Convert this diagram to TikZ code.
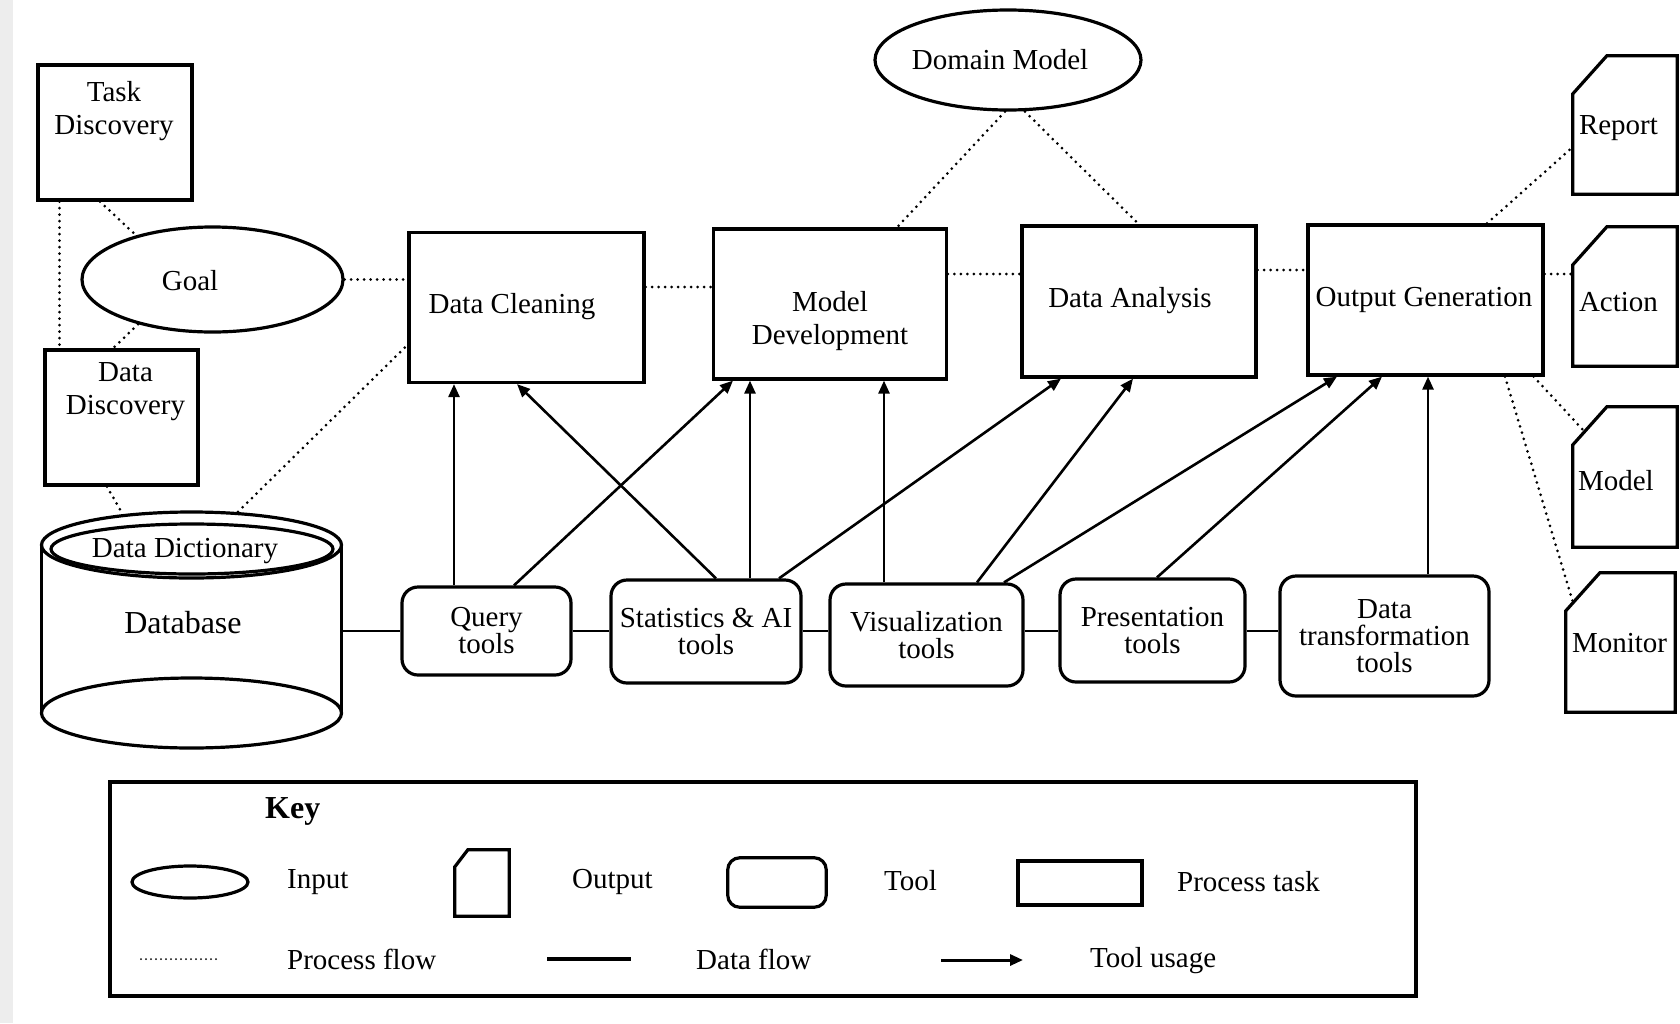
\documentclass[tikz,border=0pt]{standalone}
\usepackage{fontspec}
\setmainfont{Liberation Serif}
\usetikzlibrary{arrows.meta,shapes.geometric}
\newcommand{\docoutline}[3]{%
  \draw[boxline] ([yshift=-#3]#1.north west) -- ([xshift=#2]#1.north west) -- (#1.north east) -- (#1.south east) -- (#1.south west) -- cycle;}
\begin{document}
\begin{tikzpicture}[x=1pt,y=-1pt,
  boxline/.style={line width=3.2pt, line join=miter},
  procbox/.style={draw, boxline, rectangle, inner sep=0pt},
  toolbox/.style={draw, boxline, rectangle, rounded corners=16pt, inner sep=0pt, align=center, font=\fontsize{29}{27}\selectfont},
  inell/.style={draw, boxline, ellipse, inner sep=0pt},
  outbox/.style={rectangle, inner sep=0pt},
  txt/.style={inner sep=0pt, align=center, font=\fontsize{29}{33}\selectfont},
  pflow/.style={line width=3pt, line cap=round, dash pattern=on 0pt off 6.5pt},
  dflow/.style={line width=2.8pt},
  tuse/.style={line width=2.6pt, -{Triangle[length=13pt,width=11pt]}},
]
\fill[white] (0,0) rectangle (1680,1023);
\fill[gray!14] (0,0) rectangle (13,1023);
\useasboundingbox (0,0) rectangle (1680,1023);

% inputs and discovery tasks
\node[procbox, minimum width=154pt, minimum height=135pt] (td) at (115,132.5) {};
\node[txt] (tdt) at (114,111) {Task\\Discovery};
\node[inell, minimum width=261pt, minimum height=105pt] (goal) at (212.5,279.5) {};
\node[txt] (goalt) at (190,281) {Goal};
\node[procbox, minimum width=153pt, minimum height=135pt] (dd) at (121.5,417.5) {};
\node[txt] (ddt) at (125.5,391.5) {Data\\Discovery};

% database cylinder
\node[outbox, minimum width=300pt, minimum height=236pt] (db) at (191.5,630) {};
\draw[boxline] (41.5,545) -- (41.5,713);
\draw[boxline] (341.5,545) -- (341.5,713);
\draw[boxline] (191.5,713) ellipse [x radius=150pt, y radius=35pt];
\draw[boxline] (191.5,545) ellipse [x radius=150pt, y radius=33pt];
\draw[boxline] (192,549) ellipse [x radius=141pt, y radius=25pt];
\node[txt] (ddict) at (185,551) {Data Dictionary};
\node[txt, font=\fontsize{32}{34}\selectfont] (dbt) at (183,623) {Database};

% process tasks
\node[procbox, minimum width=235pt, minimum height=150pt] (dc) at (526.5,307.5) {};
\node[txt] (dct) at (512,307) {Data Cleaning};
\node[procbox, minimum width=232.5pt, minimum height=150pt] (md) at (830,304) {};
\node[txt] (mdt) at (830,321) {Model\\Development};
\node[procbox, minimum width=234pt, minimum height=151pt] (da) at (1139,301.5) {};
\node[txt] (dat) at (1130,301) {Data Analysis};
\node[procbox, minimum width=235pt, minimum height=150pt] (og) at (1425.5,300) {};
\node[txt] (ogt) at (1424,300) {Output Generation};
\node[inell, minimum width=266pt, minimum height=100pt] (dm) at (1008,60) {};
\node[txt] (dmt) at (1000,60) {Domain Model};

% outputs
\node[outbox, minimum width=104pt, minimum height=138pt] (rep) at (1625,125) {};
\docoutline{rep}{34pt}{38pt}
\node[txt, anchor=west] (rept) at ([xshift=6pt,yshift=-3.5pt]rep.west) {Report};
\node[outbox, minimum width=104pt, minimum height=139pt] (act) at (1625,296.5) {};
\docoutline{act}{34pt}{38pt}
\node[txt, anchor=west] (actt) at ([xshift=6pt,yshift=-5.5pt]act.west) {Action};
\node[outbox, minimum width=104pt, minimum height=140pt] (mod) at (1625,477) {};
\docoutline{mod}{34pt}{38pt}
\node[txt, anchor=west] (modt) at ([xshift=5pt,yshift=-4pt]mod.west) {Model};
\node[outbox, minimum width=109pt, minimum height=139pt] (mon) at (1620.5,642.5) {};
\docoutline{mon}{34pt}{38pt}
\node[txt, anchor=west] (mont) at ([xshift=6pt,yshift=-1pt]mon.west) {Monitor};

% tools
\node[toolbox, minimum width=169pt, minimum height=88pt] (qt) at (486.5,631) {Query\\tools};
\node[toolbox, minimum width=190pt, minimum height=103pt] (st) at (706,631.5) {Statistics \& AI\\tools};
\node[toolbox, minimum width=193pt, minimum height=102pt] (vt) at (926.5,635) {Visualization\\tools};
\node[toolbox, minimum width=185pt, minimum height=103pt] (pt) at (1152.5,630.5) {Presentation\\tools};
\node[toolbox, minimum width=209pt, minimum height=120pt] (dt) at (1384.5,636) {Data\\transformation\\tools};

% data flow
\draw[dflow] (db.east |- qt.west) -- (qt.west);
\draw[dflow] (qt.east) -- (qt.east -| st.west);
\draw[dflow] (st.east |- qt.east) -- (qt.east -| vt.west);
\draw[dflow] (vt.east |- qt.east) -- (qt.east -| pt.west);
\draw[dflow] (pt.east |- qt.east) -- (qt.east -| dt.west);

% tool usage
\draw[tuse] ([xshift=-32.5pt]qt.north) -- ([xshift=-32.5pt]qt.north |- dc.south);
\draw[tuse] ([xshift=27.5pt]qt.north) -- ([xshift=-97pt]md.south);
\draw[tuse] ([xshift=10pt]st.north) -- ([xshift=-9.5pt]dc.south);
\draw[tuse] ([xshift=44pt]st.north) -- ([xshift=44pt]st.north |- md.south);
\draw[tuse] ([xshift=73pt]st.north) -- ([xshift=-78pt]da.south);
\draw[tuse] ([xshift=-42.5pt]vt.north) -- ([xshift=-42.5pt]vt.north |- md.south);
\draw[tuse] ([xshift=50.5pt]vt.north) -- ([xshift=-6pt]da.south);
\draw[tuse] ([xshift=77.5pt]vt.north) -- ([xshift=-88.5pt]og.south);
\draw[tuse] ([xshift=4.5pt]pt.north) -- ([xshift=-43.5pt]og.south);
\draw[tuse] ([xshift=43.5pt]dt.north) -- ([xshift=43.5pt]dt.north |- og.south);

% process flow
\draw[pflow] ([xshift=23pt]td.south west) -- ([xshift=23pt]td.south west |- dd.north);
\draw[pflow] ([xshift=-15pt]td.south) -- (goal.150);
\draw[pflow] (goal.211) -- ([xshift=-8.5pt]dd.north);
\draw[pflow] (goal.east) -- (goal.east -| dc.west);
\draw[pflow] ([yshift=20.5pt]dc.east) -- ([yshift=20.5pt]dc.east -| md.west);
\draw[pflow] ([yshift=30pt]md.east) -- ([yshift=30pt]md.east -| da.west);
\draw[pflow] ([yshift=31.5pt]da.east) -- ([yshift=31.5pt]da.east -| og.west);
\draw[pflow] ([yshift=26pt]og.east) -- ([yshift=26pt]og.east -| act.west);
\draw[pflow] ([xshift=46.5pt]db.north) -- ([yshift=-37.5pt]dc.west);
\draw[pflow] ([xshift=-14.5pt]dd.south) -- ([xshift=-68.5pt,yshift=-3pt]db.north);
\draw[pflow] ([xshift=-3pt]dm.south) -- ([xshift=67pt]md.north);
\draw[pflow] ([xshift=17pt]dm.south) -- (da.north);
\draw[pflow] ([xshift=61.5pt]og.north) -- ([yshift=-22pt]rep.west);
\draw[pflow] ([xshift=-11pt]og.south east) -- ([xshift=11pt,yshift=-24pt]mod.north west);
\draw[pflow] ([xshift=79.5pt]og.south) -- ([xshift=7pt,yshift=-29pt]mon.north west);

% key
\node[procbox, line width=3.4pt, minimum width=1306pt, minimum height=214pt] (key) at (763,889) {};
\node[txt, font=\bfseries\fontsize{32}{34}\selectfont, anchor=west] (keyt) at (265,811) {Key};
\node[inell, minimum width=116pt, minimum height=32pt] (lgin) at (190,882) {};
\node[txt, anchor=west] (lgint) at (287,882) {Input};
\node[outbox, minimum width=54pt, minimum height=66pt] (lgout) at (482,883) {};
\docoutline{lgout}{13pt}{17pt}
\node[txt, anchor=west] (lgoutt) at (572,882) {Output};
\node[toolbox, rounded corners=12pt, minimum width=98.5pt, minimum height=49.5pt] (lgtool) at (777,882.5) {};
\node[txt, anchor=west] (lgtoolt) at (884,881) {Tool};
\node[procbox, minimum width=124pt, minimum height=44pt] (lgproc) at (1080,883) {};
\node[txt, anchor=west] (lgproct) at (1177,882) {Process task};
\coordinate (pfa) at (141,959);
\coordinate (pfb) at (220,959);
\draw[pflow, line width=2pt, dash pattern=on 0pt off 5pt] (pfa) -- (pfb);
\node[txt, anchor=west] (pft) at (287,959) {Process flow};
\coordinate (dfa) at (547,959);
\coordinate (dfb) at (631,959);
\draw[dflow, line width=3.2pt] (dfa) -- (dfb);
\node[txt, anchor=west] (dft) at (696,959) {Data flow};
\coordinate (tua) at (941,960);
\coordinate (tub) at (1023,960);
\draw[tuse, line width=3pt] (tua) -- (tub);
\node[txt, anchor=west] (tut) at (1090,961) {Tool usage};
\end{tikzpicture}
\end{document}
